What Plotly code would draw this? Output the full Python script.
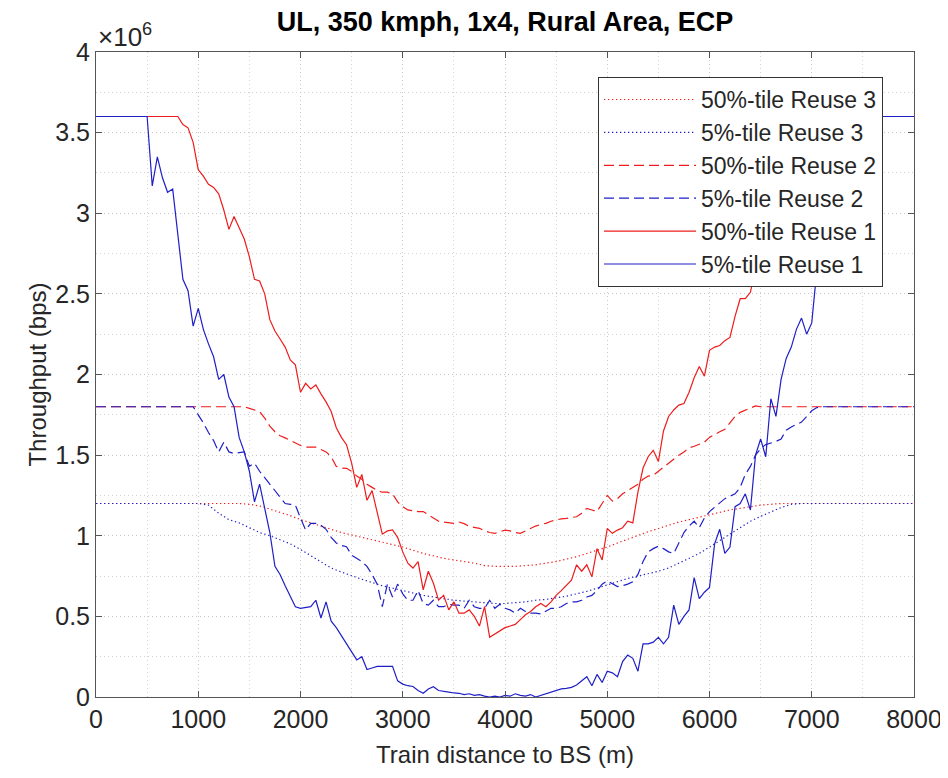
import plotly.graph_objects as go

# x sample grids (m)
x_fine = list(range(0, 8001, 50))     # 161 points
x_coarse = list(range(0, 8001, 100))  # 81 points

# Throughput values in units of 1e6 bps
b1 = [3.6] * 10 + [
    3.6, 3.17, 3.35, 3.22, 3.13, 3.15, 2.85, 2.59, 2.52, 2.30,
    2.41, 2.28, 2.19, 2.11, 1.97, 2.00, 1.86, 1.80, 1.61, 1.52,
    1.40, 1.21, 1.32, 1.17, 1.02, 0.81, 0.76, 0.69, 0.63, 0.56,
    0.55, 0.555, 0.56, 0.60, 0.49, 0.59, 0.47, 0.43, 0.38, 0.33,
    0.28, 0.23, 0.25, 0.17, 0.18, 0.19, 0.19, 0.19, 0.19, 0.10,
    0.08, 0.07, 0.065, 0.04, 0.023, 0.05, 0.064, 0.04, 0.033, 0.03,
    0.025, 0.023, 0.015, 0.02, 0.01, 0.015, 0.005, 0.0, 0.005, 0.0,
    0.01, 0.005, 0.02, 0.01, 0.005, 0.015, 0.0, 0.01, 0.02, 0.03,
    0.04, 0.05, 0.054, 0.06, 0.074, 0.10, 0.126, 0.07, 0.14, 0.09,
    0.16, 0.15, 0.126, 0.22, 0.26, 0.24, 0.16, 0.33, 0.33, 0.34,
    0.37, 0.33, 0.37, 0.57, 0.45, 0.50, 0.54, 0.74, 0.61, 0.65,
    0.68, 0.95, 1.04, 0.89, 0.93, 1.18, 1.20, 1.26, 1.16, 1.50,
    1.60, 1.49, 1.85, 1.74, 1.97, 2.10, 2.17, 2.28, 2.35, 2.25,
    2.32, 2.65, 2.85, 3.00, 3.15, 3.30, 3.42, 3.52, 3.58, 3.6,
] + [3.6] * 11

r1 = [3.6] * 10 + [
    3.6, 3.6, 3.6, 3.6, 3.6, 3.6, 3.6, 3.55, 3.53, 3.44,
    3.27, 3.23, 3.18, 3.16, 3.12, 3.02, 2.90, 2.98, 2.91, 2.84,
    2.73, 2.59, 2.58, 2.50, 2.34, 2.27, 2.22, 2.17, 2.09, 2.06,
    1.89, 1.945, 1.91, 1.935, 1.88, 1.83, 1.77, 1.67, 1.61, 1.565,
    1.45, 1.30, 1.38, 1.22, 1.28, 1.15, 1.01, 1.03, 1.036, 0.99,
    0.90, 0.83, 0.80, 0.84, 0.665, 0.78, 0.705, 0.60, 0.63, 0.54,
    0.59, 0.52, 0.52, 0.54, 0.50, 0.44, 0.56, 0.37, 0.39, 0.41,
    0.43, 0.44, 0.45, 0.48, 0.51, 0.53, 0.56, 0.58, 0.56, 0.59,
    0.63, 0.66, 0.69, 0.725, 0.82, 0.78, 0.82, 0.745, 0.92, 0.85,
    1.045, 1.015, 1.035, 1.05, 1.09, 1.08, 1.27, 1.42, 1.49, 1.53,
    1.46, 1.65, 1.74, 1.78, 1.81, 1.82, 1.89, 1.98, 2.05, 1.99,
    2.15, 2.17, 2.18, 2.21, 2.23, 2.36, 2.47, 2.47, 2.51, 2.66,
    2.75, 2.84, 2.93, 3.03, 3.13, 3.22, 3.31, 3.39, 3.46, 3.52,
    3.56,
] + [3.6] * 20

r2 = [1.8] * 30 + [
    1.79, 1.78, 1.77, 1.73, 1.68, 1.645, 1.62, 1.607, 1.59, 1.575,
    1.56, 1.55, 1.552, 1.55, 1.535, 1.52, 1.49, 1.43, 1.42, 1.418,
    1.40, 1.37, 1.35, 1.32, 1.30, 1.28, 1.27, 1.27, 1.26, 1.21,
    1.18, 1.16, 1.155, 1.15, 1.15, 1.13, 1.115, 1.09, 1.085, 1.08,
    1.077, 1.085, 1.075, 1.058, 1.05, 1.046, 1.03, 1.02, 1.015, 1.025,
    1.035, 1.03, 1.02, 1.015, 1.03, 1.05, 1.06, 1.07, 1.077, 1.09,
    1.098, 1.105, 1.108, 1.113, 1.118, 1.14, 1.17, 1.16, 1.15, 1.20,
    1.25, 1.215, 1.23, 1.26, 1.28, 1.30, 1.32, 1.35, 1.37, 1.375,
    1.40, 1.43, 1.455, 1.48, 1.50, 1.52, 1.545, 1.555, 1.57, 1.58,
    1.61, 1.63, 1.645, 1.66, 1.70, 1.74, 1.765, 1.778, 1.79, 1.805,
] + [1.8] * 31

b2 = [1.8] * 20 + [
    1.75, 1.70, 1.64, 1.59, 1.52, 1.58, 1.52, 1.51, 1.515, 1.52,
    1.43, 1.45, 1.40, 1.36, 1.32, 1.28, 1.24, 1.20, 1.195, 1.19,
    1.11, 1.036, 1.077, 1.077, 1.065, 1.04, 0.99, 0.955, 0.94, 0.932,
    0.88, 0.86, 0.84, 0.81, 0.76, 0.70, 0.56, 0.70, 0.62, 0.70,
    0.64, 0.60, 0.60, 0.66, 0.58, 0.57, 0.60, 0.56, 0.56, 0.575,
    0.57, 0.57, 0.55, 0.60, 0.56, 0.55, 0.55, 0.60, 0.55, 0.575,
    0.55, 0.54, 0.52, 0.55, 0.53, 0.52, 0.52, 0.515, 0.53, 0.55,
    0.55, 0.56, 0.58, 0.59, 0.59, 0.60, 0.62, 0.63, 0.66, 0.70,
    0.72, 0.70, 0.685, 0.69, 0.70, 0.715, 0.76, 0.84, 0.90, 0.92,
    0.935, 0.92, 0.90, 0.89, 0.96, 1.02, 1.06, 1.09, 1.05, 1.11,
    1.15, 1.175, 1.20, 1.23, 1.245, 1.26, 1.30, 1.38, 1.43, 1.50,
    1.54, 1.565, 1.575, 1.585, 1.60, 1.655, 1.675, 1.69, 1.705, 1.74,
    1.775, 1.795,
] + [1.8] * 19

r3 = [1.2] * 10 + [
    1.2, 1.2, 1.2, 1.2, 1.2, 1.195, 1.185, 1.165, 1.145, 1.125,
    1.10, 1.08, 1.06, 1.04, 1.02, 1.005, 0.99, 0.975, 0.96, 0.945,
    0.93, 0.91, 0.89, 0.875, 0.86, 0.85, 0.84, 0.83, 0.815, 0.81,
    0.81, 0.81, 0.815, 0.82, 0.83, 0.84, 0.855, 0.87, 0.89, 0.91,
    0.93, 0.955, 0.98, 1.0, 1.025, 1.045, 1.065, 1.085, 1.10, 1.115,
    1.13, 1.145, 1.16, 1.17, 1.18, 1.19, 1.195, 1.2, 1.2, 1.2,
] + [1.2] * 11

b3 = [1.2] * 10 + [
    1.2, 1.19, 1.14, 1.10, 1.08, 1.05, 1.02, 1.0, 0.975, 0.95,
    0.915, 0.875, 0.84, 0.80, 0.775, 0.75, 0.73, 0.71, 0.69, 0.675,
    0.66, 0.645, 0.63, 0.62, 0.61, 0.60, 0.595, 0.59, 0.585, 0.58,
    0.58, 0.585, 0.59, 0.60, 0.605, 0.615, 0.625, 0.64, 0.655, 0.675,
    0.695, 0.715, 0.735, 0.75, 0.765, 0.78, 0.80, 0.83, 0.86, 0.89,
    0.93, 0.97, 1.01, 1.05, 1.09, 1.12, 1.15, 1.175, 1.195, 1.2,
] + [1.2] * 11

names = ["50%-tile Reuse 3", "5%-tile Reuse 3", "50%-tile Reuse 2",
         "5%-tile Reuse 2", "50%-tile Reuse 1", "5%-tile Reuse 1"]

x_ticks = [0, 1000, 2000, 3000, 4000, 5000, 6000, 7000, 8000]
y_ticks = [0, 0.5, 1, 1.5, 2, 2.5, 3, 3.5, 4]
y_ticktext = ["0", "0.5", "1", "1.5", "2", "2.5", "3", "3.5", "4"]

RED = "#ee1c1c"
BLUE = "#1f1fc8"
DOT = "1.3px,2.7px"
DASH = "10px,5px"

series = [
    (x_coarse, r3, RED, DOT),
    (x_coarse, b3, BLUE, DOT),
    (x_fine, r2, RED, DASH),
    (x_fine, b2, BLUE, DASH),
    (x_fine, r1, RED, "solid"),
    (x_fine, b1, BLUE, "solid"),
]

fig = go.Figure()
for (xs, ys, col, dash), nm in zip(series, names):
    fig.add_trace(go.Scatter(x=xs, y=ys, mode="lines", name=nm,
                             line=dict(color=col, width=1.2, dash=dash)))

FONT = "Liberation Sans, Arial, sans-serif"
axis_common = dict(
    showline=True, linecolor="#555555", linewidth=1, mirror="ticks",
    ticks="inside", ticklen=6, tickcolor="#555555",
    showgrid=True, gridcolor="#c8c8c8", gridwidth=1, griddash="1px,3px",
    zeroline=False, automargin=False,
    tickfont=dict(family=FONT, size=25, color="#262626"),
)

fig.update_xaxes(
    range=[0, 8000], tickvals=x_ticks,
    minor=dict(dtick=500, showgrid=True, gridcolor="#d4d4d4",
               griddash="1px,3px", ticks=""),
    title=dict(text="Train distance to BS (m)",
               font=dict(family=FONT, size=24, color="#262626"), standoff=14),
    **axis_common)
fig.update_yaxes(
    range=[0, 4], tickvals=y_ticks, ticktext=y_ticktext,
    minor=dict(dtick=0.25, showgrid=True, gridcolor="#d4d4d4",
               griddash="1px,3px", ticks=""),
    title=dict(text="Throughput (bps)",
               font=dict(family=FONT, size=24, color="#262626"), standoff=1),
    **axis_common)

# page body adds an 8px offset; margins compensate so the plot sits at
# x 96..914, y 52..697 in the screenshot
fig.update_layout(
    width=948, height=778,
    margin=dict(l=88, r=42, t=44, b=89),
    paper_bgcolor="white", plot_bgcolor="white",
    title=dict(text="<b>UL, 350 kmph, 1x4, Rural Area, ECP</b>",
               x=0.5, xref="paper", y=1.0, yref="container",
               xanchor="center", yanchor="top", pad=dict(t=4),
               font=dict(family=FONT, size=27, color="black")),
    legend=dict(x=0.6137, y=0.9612, xanchor="left", yanchor="top",
                bgcolor="white", bordercolor="#333333", borderwidth=1,
                font=dict(family=FONT, size=23, color="#262626"),
                itemwidth=92, tracegroupgap=0),
    annotations=[dict(text="×10<sup>6</sup>", xref="paper", yref="paper",
                      x=0.0, y=1.0, xanchor="left", yanchor="bottom",
                      showarrow=False, yshift=-2,
                      font=dict(family=FONT, size=26, color="#262626"))],
)

fig.write_html("out.html")
